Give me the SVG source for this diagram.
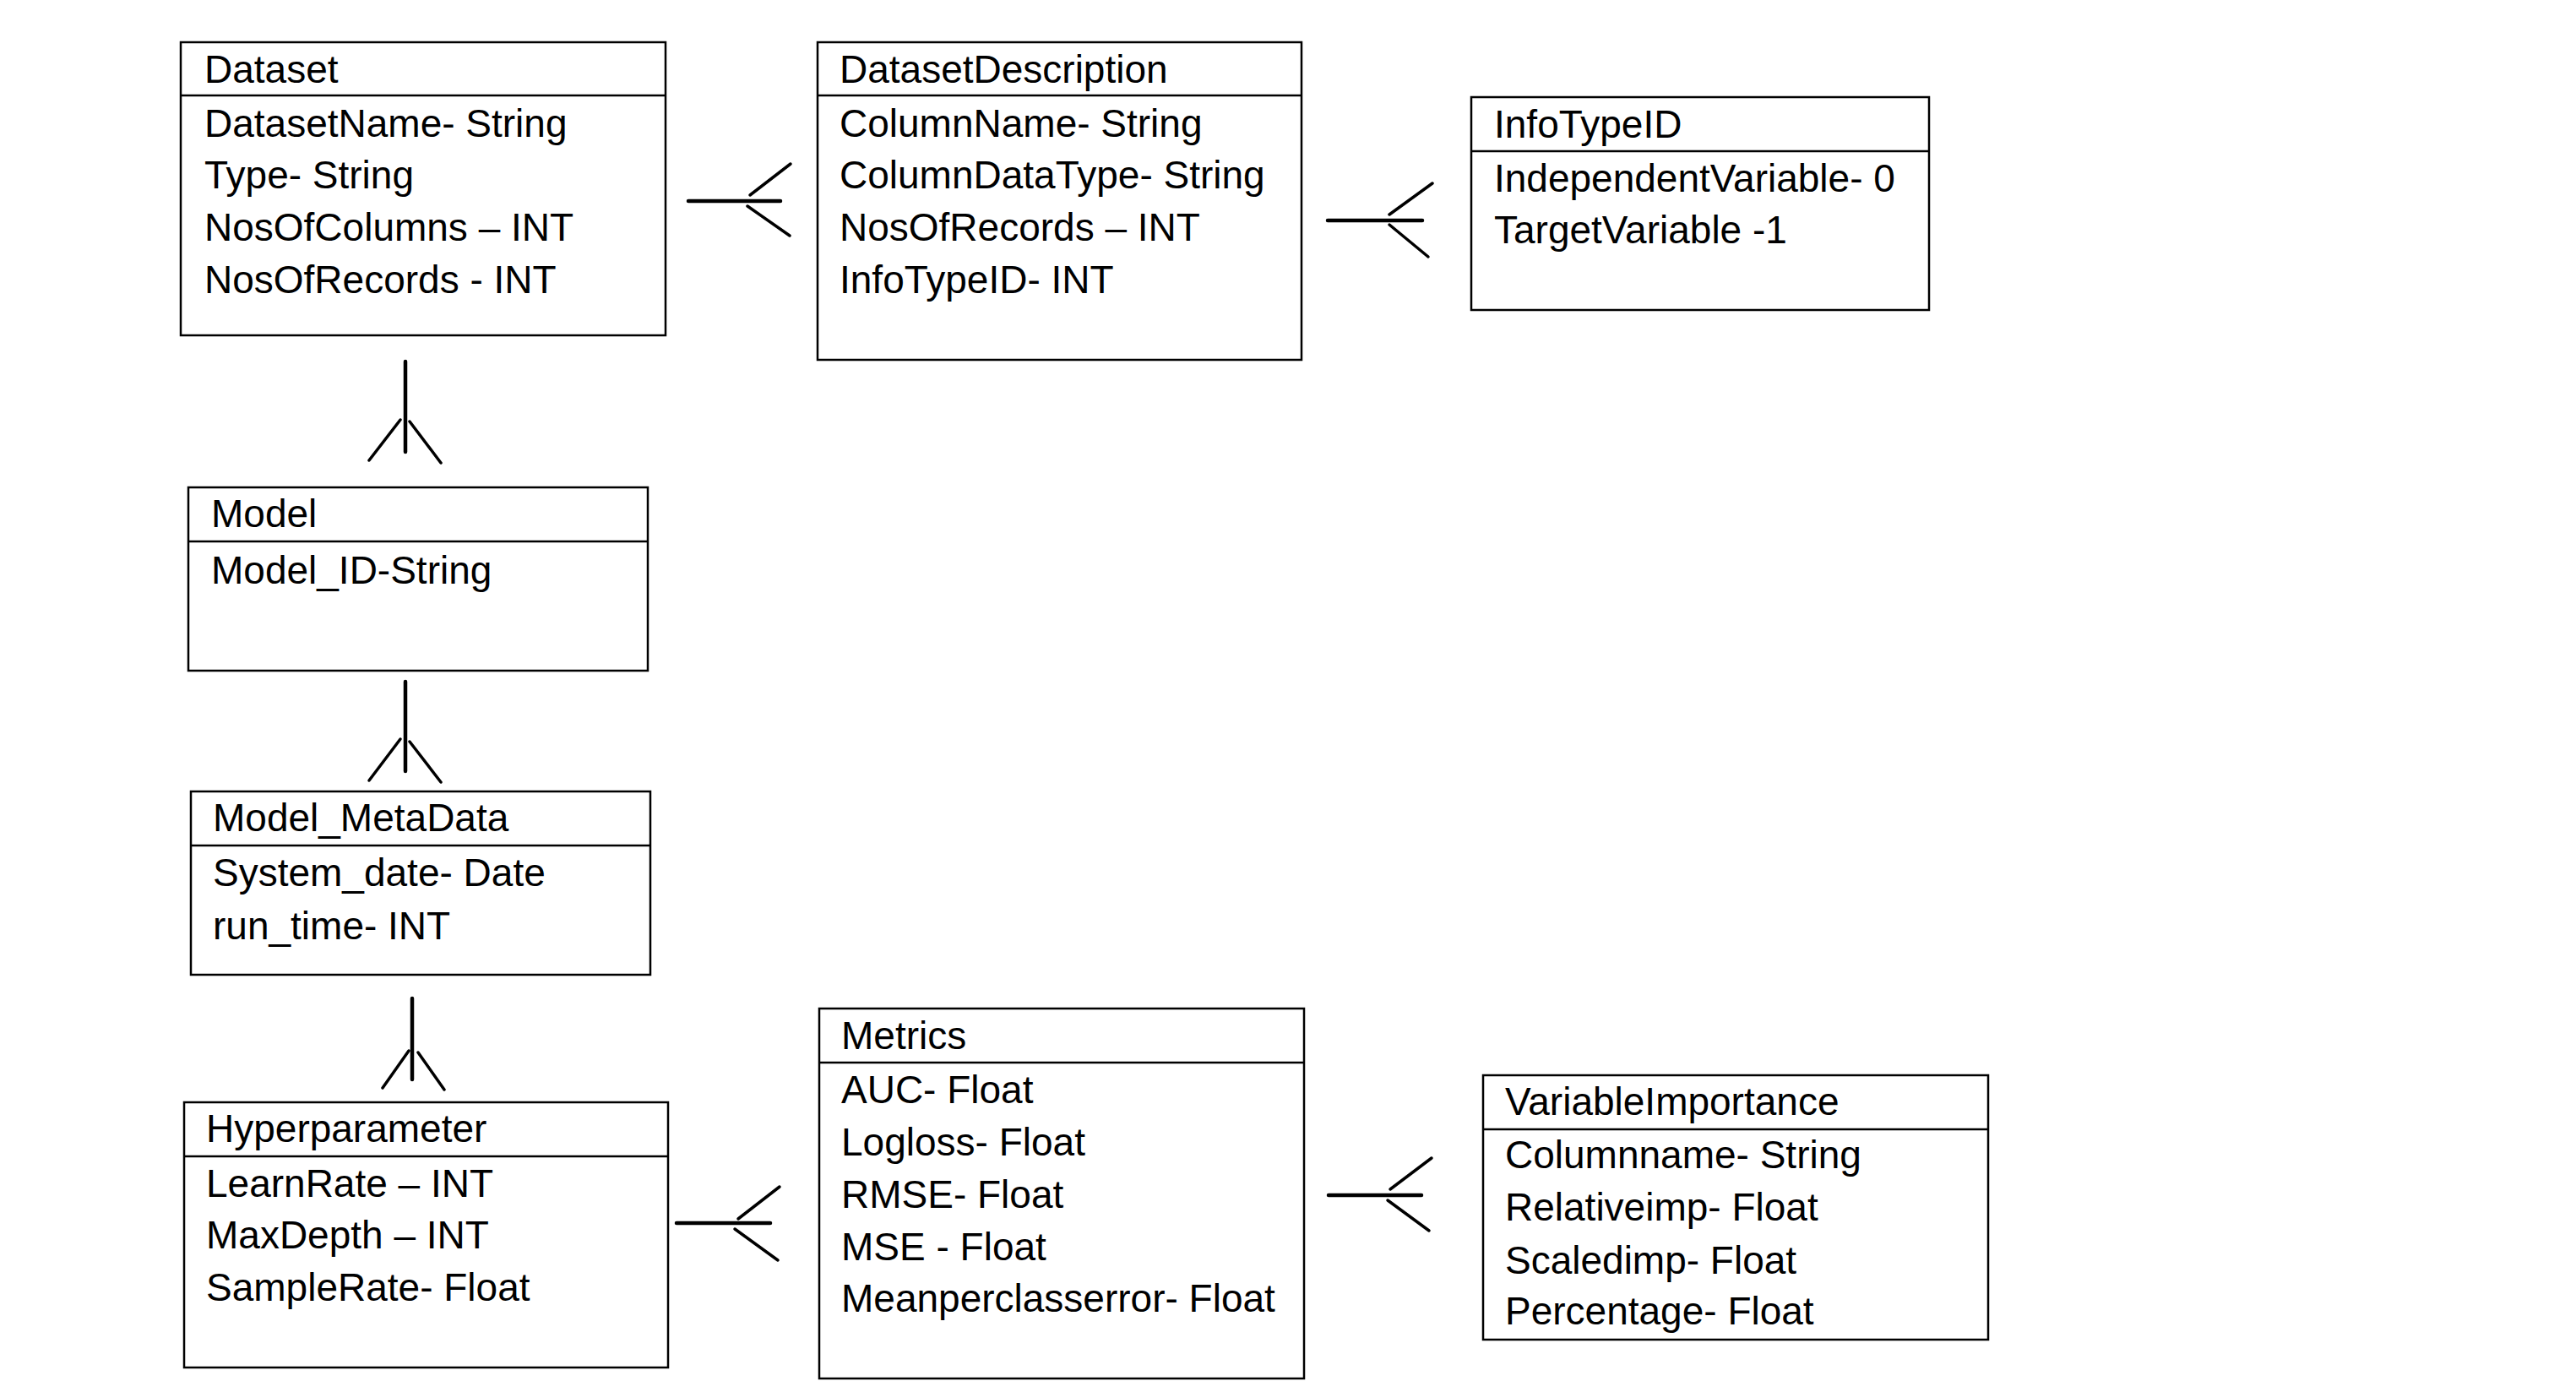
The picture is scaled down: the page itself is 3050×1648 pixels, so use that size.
<svg xmlns="http://www.w3.org/2000/svg" width="3050" height="1648" viewBox="0 0 3050 1648">
<style>
.box{fill:#fff;stroke:#000;stroke-width:2.5}
.sep{stroke:#000;stroke-width:2.5}
text{font-family:"Liberation Sans",Arial,sans-serif;font-size:46px;fill:#000}
.stem{stroke:#000;stroke-width:4.5;stroke-linecap:round;fill:none}
.br{stroke:#000;stroke-width:3.5;stroke-linecap:round;fill:none}
</style>
<rect width="3050" height="1648" fill="#fff"/>
<g id="Dataset">
<rect class="box" x="214" y="50" width="574" height="347"/>
<line class="sep" x1="214" y1="113" x2="788" y2="113"/>
<text x="242" y="98">Dataset</text>
<text x="242" y="162">DatasetName- String</text>
<text x="242" y="223">Type- String</text>
<text x="242" y="285">NosOfColumns – INT</text>
<text x="242" y="347">NosOfRecords - INT</text>
</g>
<g id="DatasetDescription">
<rect class="box" x="968" y="50" width="573" height="376"/>
<line class="sep" x1="968" y1="113" x2="1541" y2="113"/>
<text x="994" y="98">DatasetDescription</text>
<text x="994" y="162">ColumnName- String</text>
<text x="994" y="223">ColumnDataType- String</text>
<text x="994" y="285">NosOfRecords – INT</text>
<text x="994" y="347">InfoTypeID- INT</text>
</g>
<g id="InfoTypeID">
<rect class="box" x="1742" y="115" width="542" height="252"/>
<line class="sep" x1="1742" y1="179" x2="2284" y2="179"/>
<text x="1769" y="163">InfoTypeID</text>
<text x="1769" y="227">IndependentVariable- 0</text>
<text x="1769" y="288">TargetVariable -1</text>
</g>
<g id="Model">
<rect class="box" x="223" y="577" width="544" height="217"/>
<line class="sep" x1="223" y1="641" x2="767" y2="641"/>
<text x="250" y="624">Model</text>
<text x="250" y="691">Model_ID-String</text>
</g>
<g id="Model_MetaData">
<rect class="box" x="226" y="937" width="544" height="217"/>
<line class="sep" x1="226" y1="1001" x2="770" y2="1001"/>
<text x="252" y="984">Model_MetaData</text>
<text x="252" y="1049">System_date- Date</text>
<text x="252" y="1112">run_time- INT</text>
</g>
<g id="Hyperparameter">
<rect class="box" x="218" y="1305" width="573" height="314"/>
<line class="sep" x1="218" y1="1369" x2="791" y2="1369"/>
<text x="244" y="1352">Hyperparameter</text>
<text x="244" y="1417">LearnRate – INT</text>
<text x="244" y="1478">MaxDepth – INT</text>
<text x="244" y="1540">SampleRate- Float</text>
</g>
<g id="Metrics">
<rect class="box" x="970" y="1194" width="574" height="438"/>
<line class="sep" x1="970" y1="1258" x2="1544" y2="1258"/>
<text x="996" y="1242">Metrics</text>
<text x="996" y="1306">AUC- Float</text>
<text x="996" y="1368">Logloss- Float</text>
<text x="996" y="1430">RMSE- Float</text>
<text x="996" y="1492">MSE - Float</text>
<text x="996" y="1553">Meanperclasserror- Float</text>
</g>
<g id="VariableImportance">
<rect class="box" x="1756" y="1273" width="598" height="313"/>
<line class="sep" x1="1756" y1="1337" x2="2354" y2="1337"/>
<text x="1782" y="1320">VariableImportance</text>
<text x="1782" y="1383">Columnname- String</text>
<text x="1782" y="1445">Relativeimp- Float</text>
<text x="1782" y="1508">Scaledimp- Float</text>
<text x="1782" y="1568">Percentage- Float</text>
</g>
<g id="connectors">
<line class="stem" x1="815" y1="238" x2="924" y2="238"/>
<line class="br" x1="888" y1="231" x2="936" y2="194"/>
<line class="br" x1="885" y1="244" x2="935" y2="279"/>
<line class="stem" x1="1572" y1="261" x2="1684" y2="261"/>
<line class="br" x1="1645" y1="254" x2="1696" y2="217"/>
<line class="br" x1="1645" y1="266" x2="1691" y2="304"/>
<line class="stem" x1="480" y1="428" x2="480" y2="535"/>
<line class="br" x1="437" y1="545" x2="474" y2="497"/>
<line class="br" x1="485" y1="499" x2="522" y2="548"/>
<line class="stem" x1="480" y1="807" x2="480" y2="913"/>
<line class="br" x1="437" y1="924" x2="474" y2="875"/>
<line class="br" x1="485" y1="878" x2="522" y2="926"/>
<line class="stem" x1="488" y1="1182" x2="488" y2="1278"/>
<line class="br" x1="453" y1="1288" x2="484" y2="1244"/>
<line class="br" x1="495" y1="1246" x2="526" y2="1290"/>
<line class="stem" x1="801" y1="1448" x2="912" y2="1448"/>
<line class="br" x1="874" y1="1443" x2="923" y2="1405"/>
<line class="br" x1="870" y1="1455" x2="921" y2="1492"/>
<line class="stem" x1="1573" y1="1415" x2="1683" y2="1415"/>
<line class="br" x1="1646" y1="1408" x2="1695" y2="1371"/>
<line class="br" x1="1643" y1="1421" x2="1692" y2="1457"/>
</g>
</svg>
